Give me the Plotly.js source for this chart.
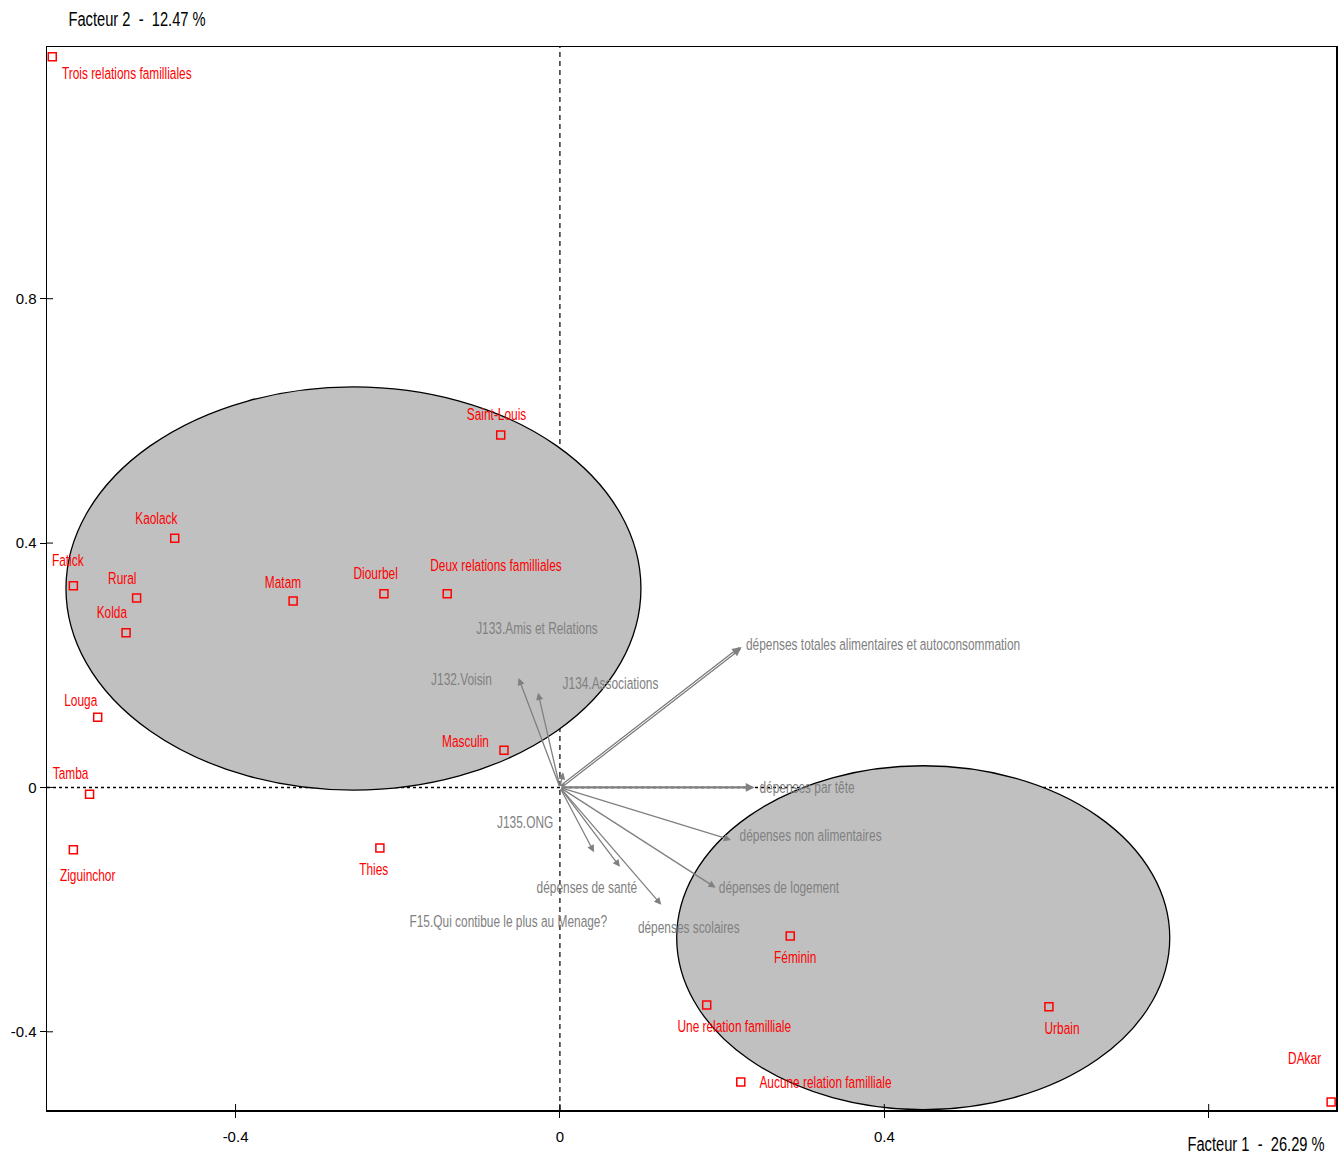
<!DOCTYPE html>
<html>
<head>
<meta charset="utf-8">
<script src="https://cdn.plot.ly/plotly-3.0.1.min.js"></script>
<style>
  html, body { margin: 0; padding: 0; background: #ffffff; }
  #chart { width: 1344px; height: 1155px; }
  /* narrow lettering for the map labels */
  #chart .annotation-text {
    transform-box: fill-box;
    transform-origin: center;
    transform: scaleX(0.70);
  }
</style>
</head>
<body>
<div id="chart"></div>
<script>
// Supplementary categories (red squares): factor 1 / factor 2 coordinates
const pointNames = [
  'Trois relations familliales', 'Saint-Louis', 'Kaolack', 'Fatick', 'Rural', 'Kolda',
  'Matam', 'Diourbel', 'Deux relations familliales', 'Louga', 'Masculin', 'Tamba',
  'Ziguinchor', 'Thies', 'Féminin', 'Une relation familliale', 'Urbain',
  'Aucune relation familliale', 'DAkar'
];
const pointF1 = [-0.626, -0.073, -0.475, -0.600, -0.522, -0.535, -0.329, -0.217, -0.139, -0.570, -0.069, -0.580, -0.600, -0.222, 0.284, 0.181, 0.603, 0.223, 0.951];
const pointF2 = [1.196, 0.577, 0.408, 0.330, 0.310, 0.253, 0.305, 0.317, 0.317, 0.115, 0.061, -0.011, -0.102, -0.099, -0.243, -0.356, -0.359, -0.482, -0.515];

// Active variables (grey vectors from the origin)
const varNames = [
  'dépenses totales alimentaires et autoconsommation', 'dépenses par tête',
  'dépenses non alimentaires', 'dépenses de logement', 'dépenses scolaires',
  'dépenses de santé', 'F15.Qui contibue le plus au Menage?',
  'J132.Voisin', 'J134.Associations', 'J133.Amis et Relations', 'J135.ONG'
];
const varF1 = [0.224, 0.240, 0.211, 0.192, 0.125, 0.074, 0.042, -0.051, -0.027, 0.004, 0.0];
const varF2 = [0.230, 0.0, -0.086, -0.164, -0.192, -0.130, -0.106, 0.179, 0.155, 0.025, 0.0];

// Group ellipses: centre and semi-axes in factor units
const ellipseCx = [-0.2546, 0.448];
const ellipseCy = [0.3257, -0.246];
const ellipseRx = [0.3545, 0.304];
const ellipseRy = [0.330, 0.2815];

// Axis ticks
const xTickVals = [-0.4, 0, 0.4, 0.8];
const xTickText = ['-0.4', '0', '0.4', ''];
const yTickVals = [-0.4, 0, 0.4, 0.8];
const yTickText = ['-0.4', '0', '0.4', '0.8'];

// Label placement: pixel offset of each text centre from its point / vector tip
const pointLabelShift = [
  [74, -17], [-4, 20], [-18, 20], [-5, 25], [-14, 20], [-14, 20],
  [-10, 19], [-8, 20], [49, 28], [-17, 17], [-38, 9], [-19, 21],
  [15, -26], [-6, -22], [5, -22], [28, -22], [13, -22], [85, -1], [-26, 44]
];
const varLabelShift = [
  [141, 2], [52, 0], [79, 4], [63, 0], [28, -23],
  [-33, -21], [-85, -69], [-57, -1], [72, 9], [-26, 144], [-35, -35]
];

const FONT = '"Liberation Sans", Arial, sans-serif';
const RED = '#ff0000';
const GREY = '#808080';
const LABEL_SIZE = 17;

const traces = [{
  type: 'scatter',
  mode: 'markers',
  x: pointF1,
  y: pointF2,
  text: pointNames,
  hoverinfo: 'text',
  marker: { symbol: 'square-open', size: 8, color: RED, line: { width: 1.5, color: RED } },
  cliponaxis: false,
  showlegend: false
}];

const shapes = [];
// ellipses
for (let i = 0; i < ellipseCx.length; i++) {
  shapes.push({
    type: 'circle', layer: 'below', xref: 'x', yref: 'y',
    x0: ellipseCx[i] - ellipseRx[i], x1: ellipseCx[i] + ellipseRx[i],
    y0: ellipseCy[i] - ellipseRy[i], y1: ellipseCy[i] + ellipseRy[i],
    fillcolor: '#c0c0c0', line: { color: '#000000', width: 1.3 }
  });
}
// dotted axes through the origin
shapes.push({ type: 'line', layer: 'below', xref: 'paper', yref: 'y', x0: 0, x1: 1, y0: 0, y1: 0,
  line: { color: '#000000', width: 1.5, dash: '3px,3px' } });
shapes.push({ type: 'line', layer: 'below', xref: 'x', yref: 'paper', x0: 0, x1: 0, y0: 0, y1: 1,
  line: { color: '#000000', width: 1.2, dash: '5px,4px' } });
// inner half of the crossing tick marks
xTickVals.forEach(v => shapes.push({
  type: 'line', xref: 'x', yref: 'paper', ysizemode: 'pixel', yanchor: 0,
  x0: v, x1: v, y0: 0, y1: 6, line: { color: '#000000', width: 1 }
}));
yTickVals.forEach(v => shapes.push({
  type: 'line', yref: 'y', xref: 'paper', xsizemode: 'pixel', xanchor: 0,
  y0: v, y1: v, x0: 0, x1: 6, line: { color: '#000000', width: 1 }
}));

const annotations = [];
// vectors
for (let i = 0; i < varNames.length; i++) {
  if (varF1[i] !== 0 || varF2[i] !== 0) {
    const wide = i === 0;
    const flat = varF2[i] === 0;
    annotations.push({
      x: varF1[i], y: varF2[i], xref: 'x', yref: 'y',
      ax: 0, ay: 0, axref: 'x', ayref: 'y',
      text: '', showarrow: true, arrowhead: 2,
      arrowsize: wide ? 0.55 : (flat ? 0.8 : 1.1),
      arrowwidth: wide ? 3.4 : (flat ? 2.2 : 1.3), arrowcolor: GREY
    });
    if (wide) {
      annotations.push({
        x: varF1[i], y: varF2[i], xref: 'x', yref: 'y',
        ax: 0, ay: 0, axref: 'x', ayref: 'y',
        text: '', showarrow: true, arrowhead: 0, arrowwidth: 1,
        arrowcolor: '#ffffff', standoff: 10, startstandoff: 4
      });
    }
  }
  annotations.push({
    x: varF1[i], y: varF2[i], xref: 'x', yref: 'y',
    text: varNames[i], showarrow: false,
    xanchor: 'center', yanchor: 'middle',
    xshift: varLabelShift[i][0], yshift: varLabelShift[i][1],
    font: { family: FONT, size: LABEL_SIZE, color: GREY }
  });
}
// point labels
for (let i = 0; i < pointNames.length; i++) {
  annotations.push({
    x: pointF1[i], y: pointF2[i], xref: 'x', yref: 'y',
    text: pointNames[i], showarrow: false,
    xanchor: 'center', yanchor: 'middle',
    xshift: pointLabelShift[i][0], yshift: pointLabelShift[i][1],
    font: { family: FONT, size: LABEL_SIZE, color: RED }
  });
}
// axis titles (centred on their text)
annotations.push({
  xref: 'paper', yref: 'paper', x: 0, y: 1, xanchor: 'center', yanchor: 'middle',
  xshift: 90, yshift: 29, showarrow: false,
  text: 'Facteur 2\u00a0\u00a0-\u00a0\u00a012.47 %',
  font: { family: FONT, size: 21, color: '#000000' }
});
annotations.push({
  xref: 'paper', yref: 'paper', x: 1, y: 0, xanchor: 'center', yanchor: 'middle',
  xshift: -80, yshift: -33, showarrow: false,
  text: 'Facteur 1\u00a0\u00a0-\u00a0\u00a026.29 %',
  font: { family: FONT, size: 21, color: '#000000' }
});

const axisCommon = {
  showgrid: false, zeroline: false, showline: true, mirror: true,
  linecolor: '#000000', linewidth: 1.5,
  ticks: 'outside', ticklen: 6, tickwidth: 1, tickcolor: '#000000',
  tickfont: { family: FONT, size: 15, color: '#000000' },
  tickmode: 'array', fixedrange: true
};

const layout = {
  width: 1344, height: 1155,
  margin: { l: 47, r: 8, t: 47, b: 45, pad: 0 },
  paper_bgcolor: '#ffffff', plot_bgcolor: '#ffffff',
  showlegend: false,
  xaxis: Object.assign({}, axisCommon, {
    range: [-0.6325, 0.957], tickvals: xTickVals, ticktext: xTickText, ticklabelstandoff: 6
  }),
  yaxis: Object.assign({}, axisCommon, {
    range: [-0.528, 1.212], tickvals: yTickVals, ticktext: yTickText, ticklabelstandoff: 0
  }),
  shapes: shapes,
  annotations: annotations
};

Plotly.newPlot('chart', traces, layout, { staticPlot: true, displayModeBar: false });
</script>
</body>
</html>
